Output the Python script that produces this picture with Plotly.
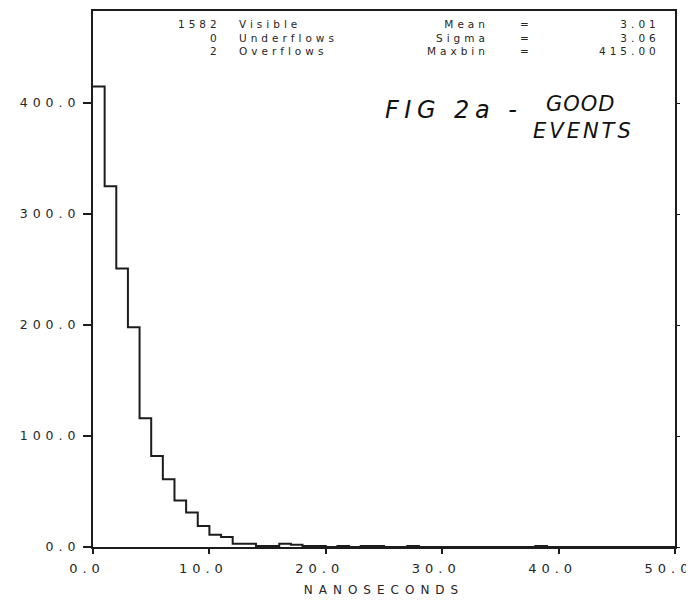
import plotly.graph_objects as go

# ---- data ----
bin_edges = list(range(0, 51))  # nanoseconds, 1 ns bins
counts = [415, 325, 251, 198, 116, 82, 61, 42, 31, 19,
          11, 9, 3, 3, 1, 1, 3, 2, 1, 1,
          0, 1, 0, 1, 1, 0, 0, 1, 0, 0,
          0, 0, 0, 0, 0, 0, 0, 0, 1, 0,
          0, 0, 0, 0, 0, 0, 0, 0, 0, 0]
y_ticks = [0, 100, 200, 300, 400]
y_ticklabels = ["0.0", "100.0", "200.0", "300.0", "400.0"]
x_ticks = [0, 10, 20, 30, 40, 50]
x_ticklabels = ["0.0", "10.0", "20.0", "30.0", "40.0", "50.0"]
count_values = ["1582", "0", "2"]
count_labels = ["Visible", "Underflows", "Overflows"]
stat_names = ["Mean", "Sigma", "Maxbin"]
stat_values = ["3.01", "3.06", "415.00"]
x_title = "NANOSECONDS"
note_line1 = "FIG 2a -"
note_word2 = "GOOD"
note_line2 = "EVENTS"

# ---- geometry (page has an 8px body margin) ----
OFF = 8
W, H = 686, 593
L, R, T, B = 85, 18, 1, 54
pw, ph = W - L - R, H - T - B


def fx(xr):  # reference-pixel x -> paper
    return (xr - OFF - L) / pw


def fy(yr):  # reference-pixel y -> paper
    return (H - B - (yr - OFF)) / ph


def spaced(s, ls):
    return '<span style="letter-spacing:%.1fpx">%s</span>' % (ls, s)


INK = "#1c1c1c"
TXT = "#262626"
FONT = "DejaVu Sans"
LS_TICK = 5

step_x = bin_edges
step_y = counts + [counts[-1]]

fig = go.Figure()
fig.add_trace(go.Scatter(x=step_x, y=step_y, mode="lines",
                         line=dict(shape="hv", color=INK, width=2),
                         hoverinfo="skip", showlegend=False))

fig.update_layout(
    width=W, height=H,
    margin=dict(l=L, r=R, t=T, b=B, pad=0),
    paper_bgcolor="white", plot_bgcolor="white",
    font=dict(family=FONT, color=TXT, size=12),
    xaxis=dict(range=[0, 50], tickvals=x_ticks,
               ticktext=[spaced(t, LS_TICK) for t in x_ticklabels],
               ticks="outside", ticklen=5, tickwidth=1.5, tickcolor=INK,
               ticklabelshift=-6, ticklabelstandoff=3, ticklabeloverflow="allow",
               showline=True, linecolor=INK, linewidth=2, mirror=True,
               showgrid=False, zeroline=False,
               tickfont=dict(size=13, family=FONT, color=TXT),
               title=dict(text=spaced(x_title, 6),
                          font=dict(size=12, family=FONT, color=TXT), standoff=11)),
    yaxis=dict(range=[0, 483], tickvals=y_ticks,
               ticktext=[spaced(t, LS_TICK) for t in y_ticklabels],
               ticks="outside", ticklen=8, tickwidth=1.5, tickcolor=INK,
               ticklabeloverflow="allow",
               showline=True, linecolor=INK, linewidth=2, mirror=True,
               showgrid=False, zeroline=False,
               tickfont=dict(size=12.5, family=FONT, color=TXT)),
    yaxis2=dict(range=[0, 483], tickvals=y_ticks, overlaying="y", side="right",
                showticklabels=False, ticks="outside", ticklen=4, tickwidth=1.2,
                tickcolor=INK, showline=False, showgrid=False, zeroline=False),
)
fig.add_trace(go.Scatter(x=[None], y=[None], yaxis="y2", showlegend=False,
                         hoverinfo="skip"))

# statistics block (one annotation per column)
LS_ST = 4
ST_FONT = dict(size=10.5, family=FONT, color=TXT)
top_row = fy(15)
cols = [
    (218 + LS_ST, "right", count_values),
    (238, "left", count_labels),
    (487 + LS_ST, "right", stat_names),
    (525 + LS_ST / 2, "center", ["=", "=", "="]),
    (658 + LS_ST, "right", stat_values),
]
for xr, al, items in cols:
    fig.add_annotation(x=fx(xr), y=top_row, xref="paper", yref="paper",
                       text="<br>".join(spaced(s, LS_ST) for s in items),
                       xanchor=al, yanchor="top", align=al, showarrow=False,
                       borderpad=0, font=ST_FONT)

# handwritten note
HAND = dict(family="DejaVu Sans", color="#111111", style="italic")
fig.add_annotation(x=fx(384), y=fy(108), xref="paper", yref="paper",
                   text=spaced(note_line1, 5.5), xanchor="left", yanchor="middle",
                   showarrow=False, borderpad=0, font=dict(size=24, **HAND))
fig.add_annotation(x=fx(546), y=fy(102), xref="paper", yref="paper",
                   text=spaced(note_word2, 1), xanchor="left", yanchor="middle",
                   showarrow=False, borderpad=0, font=dict(size=21, **HAND))
fig.add_annotation(x=fx(533), y=fy(129), xref="paper", yref="paper",
                   text=spaced(note_line2, 3), xanchor="left", yanchor="middle",
                   showarrow=False, borderpad=0, font=dict(size=21, **HAND))

fig.write_html("out.html")
